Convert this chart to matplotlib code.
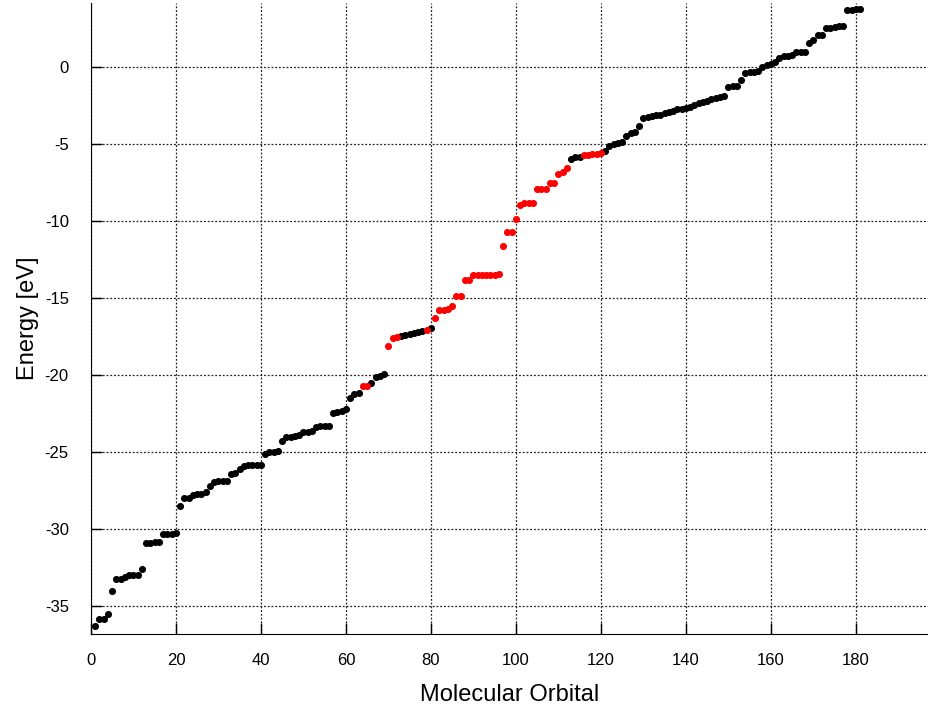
import numpy as np
import matplotlib
matplotlib.use("Agg")
from matplotlib import pyplot as plt

plt.rcParams['font.family'] = ['Liberation Sans', 'DejaVu Sans']
plt.rcParams['axes.unicode_minus'] = False

# orbital energies (eV), ordered by orbital index 1..181
energy = [
    -36.3, -35.8, -35.8, -35.5, -34.0, -33.2, -33.2, -33.1, -33.0, -33.0,
    -33.0, -32.6, -30.9, -30.9, -30.85, -30.8, -30.3, -30.3, -30.3, -30.25,
    -28.5, -28.0, -28.0, -27.8, -27.7, -27.7, -27.6, -27.2, -26.95, -26.9,
    -26.9, -26.85, -26.4, -26.35, -26.1, -25.9, -25.85, -25.8, -25.8, -25.8,
    -25.1, -25.0, -25.0, -24.95, -24.3, -24.0, -24.0, -23.95, -23.9, -23.7,
    -23.7, -23.6, -23.35, -23.3, -23.3, -23.3, -22.45, -22.4, -22.3, -22.2,
    -21.5, -21.2, -21.15, -20.7, -20.7, -20.5, -20.15, -20.05, -19.95, -18.1,
    -17.6, -17.55, -17.45, -17.4, -17.35, -17.25, -17.2, -17.15, -17.1, -16.95,
    -16.3, -15.8, -15.8, -15.7, -15.5, -14.85, -14.85, -13.85, -13.85, -13.5,
    -13.5, -13.5, -13.5, -13.5, -13.5, -13.45, -11.6, -10.7, -10.7, -9.9,
    -8.95, -8.8, -8.8, -8.8, -7.95, -7.95, -7.9, -7.55, -7.5, -6.95,
    -6.85, -6.55, -6.0, -5.85, -5.85, -5.7, -5.7, -5.65, -5.65, -5.6,
    -5.45, -5.15, -5.0, -4.95, -4.9, -4.5, -4.3, -4.25, -3.8, -3.3,
    -3.25, -3.2, -3.15, -3.1, -3.0, -2.95, -2.85, -2.75, -2.7, -2.65,
    -2.6, -2.45, -2.35, -2.3, -2.2, -2.1, -2.0, -1.95, -1.9, -1.3,
    -1.25, -1.25, -0.85, -0.4, -0.35, -0.3, -0.25, 0.0, 0.15, 0.2,
    0.3, 0.55, 0.7, 0.7, 0.75, 0.95, 0.95, 1.0, 1.55, 1.75,
    2.05, 2.1, 2.5, 2.55, 2.6, 2.65, 2.65, 3.7, 3.7, 3.75,
    3.75,
]

# orbitals highlighted in red
highlighted = [64, 65, 70, 71, 72, 79] + list(range(81, 113)) + list(range(116, 121))

orbital = np.arange(1, len(energy) + 1)
energy = np.array(energy)
is_red = np.isin(orbital, highlighted)

fig = plt.figure(figsize=(9.29, 7.13), dpi=100)
ax = fig.add_axes([91/929, 79/713, 837/929, 631/713])

ax.scatter(orbital[~is_red], energy[~is_red], s=26, c='black', linewidths=0, zorder=3)
ax.scatter(orbital[is_red], energy[is_red], s=26, c='red', linewidths=0, zorder=3)

ax.set_xlim(0, 197)
ax.set_ylim(-36.8, 4.15)
ax.set_xticks(np.arange(0, 181, 20))
ax.set_yticks(np.arange(-35, 1, 5))

ax.grid(True, linestyle=(0, (1.5, 1.5)), color='#222222', linewidth=0.9)
ax.tick_params(direction='in', length=8, width=1, labelsize=12)
ax.tick_params(axis='x', pad=14)
ax.tick_params(axis='y', pad=16)
for side in ['top', 'right']:
    ax.spines[side].set_visible(False)

ax.set_xlabel('Molecular Orbital', fontsize=17, labelpad=11)
ax.set_ylabel('Energy [eV]', fontsize=17, labelpad=4)

fig.savefig('out.png', dpi=100)
